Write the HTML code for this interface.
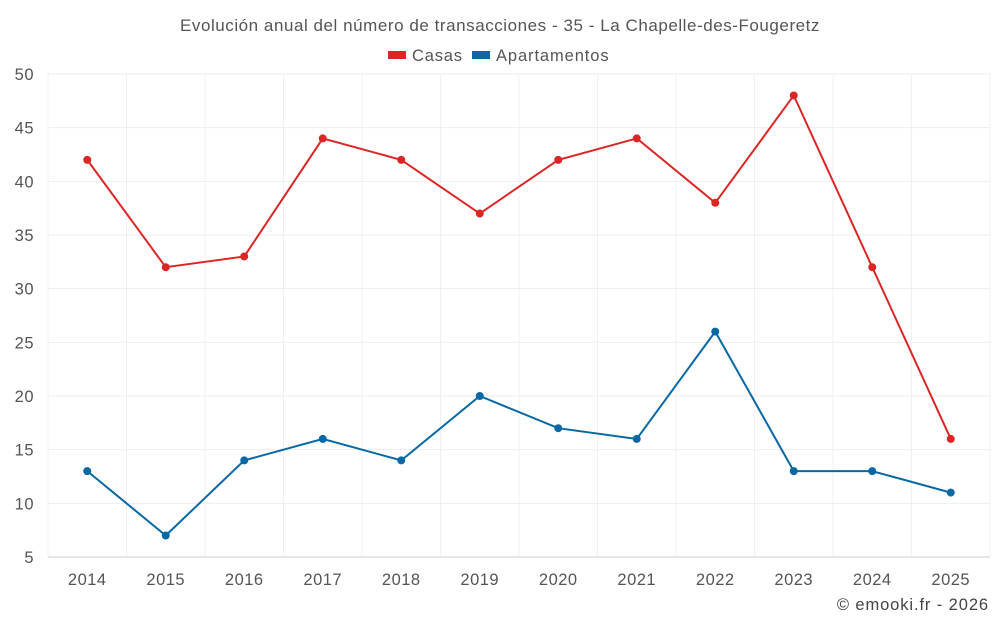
<!DOCTYPE html>
<html><head><meta charset="utf-8"><style>
body{margin:0;background:#fff;font-family:"Liberation Sans",sans-serif}
svg text{font-family:"Liberation Sans",sans-serif}
</style></head><body>
<svg id="chart" width="1000" height="625">
<text x="500" y="31" text-anchor="middle" font-size="17" letter-spacing="0.55" fill="#555">Evolución anual del número de transacciones - 35 - La Chapelle-des-Fougeretz</text>
<g>
<g><rect x="388" y="51" width="18" height="8" fill="#dc2626"/><text x="412" y="61" font-size="16.5" letter-spacing="0.8" fill="#555">Casas</text></g>
<g><rect x="472" y="51" width="18" height="8" fill="#0868a4"/><text x="496" y="61" font-size="16.5" letter-spacing="0.9" fill="#555">Apartamentos</text></g>
</g>
<g id="grid"></g><g id="axes"></g><g id="series"></g>
<text x="989" y="610" text-anchor="end" font-size="16.5" letter-spacing="0.9" fill="#444">© emooki.fr - 2026</text>
</svg>
<script>
const years=["2014","2015","2016","2017","2018","2019","2020","2021","2022","2023","2024","2025"];
const casas=[42,32,33,44,42,37,42,44,38,48,32,16];
const apartamentos=[13,7,14,16,14,20,17,16,26,13,13,11];
const yTicks=[5,10,15,20,25,30,35,40,45,50];
const L=48,R=990,T=74,B=557,yMin=5,yMax=50;
const bw=(R-L)/years.length;
const x=i=>L+bw*(i+0.5);
const y=v=>B-(v-yMin)/(yMax-yMin)*(B-T);
const NS="http://www.w3.org/2000/svg";
function mk(tag,attrs,parent,txt){const e=document.createElementNS(NS,tag);for(const k in attrs)e.setAttribute(k,attrs[k]);if(txt!==undefined)e.textContent=txt;document.getElementById(parent).appendChild(e);return e;}
yTicks.forEach(v=>{
  const g=mk('line',{x1:L,x2:R,y1:y(v),y2:y(v),stroke:v===yMin?'#ccc':'#eee','stroke-width':1},'grid');
  
  
  const t=mk('text',{x:34,y:y(v)+6,'text-anchor':'end','font-size':16.5,'letter-spacing':0.5,fill:'#555'},'axes',v);
  
  
});
for(let i=0;i<=years.length;i++){
  const g=mk('line',{x1:L+bw*i,x2:L+bw*i,y1:T,y2:B,stroke:'#f0f0f0','stroke-width':1},'grid');
  
  
}
years.forEach((yr,i)=>{
  const t=mk('text',{x:x(i),y:585,'text-anchor':'middle','font-size':16.5,'letter-spacing':0.5,fill:'#555'},'axes',yr);
  
  
});
function series(vals,color,name){
  const p=mk('polyline',{points:vals.map((v,i)=>x(i)+','+y(v)).join(' '),fill:'none',stroke:color,'stroke-width':2},'series');
  
  
  vals.forEach((v,i)=>{
    const c=mk('circle',{cx:x(i),cy:y(v),r:4,fill:color},'series');
    
    
  });
}
series(casas,'#dc2626','casas');
series(apartamentos,'#0868a4','apartamentos');
</script>
</body></html>
